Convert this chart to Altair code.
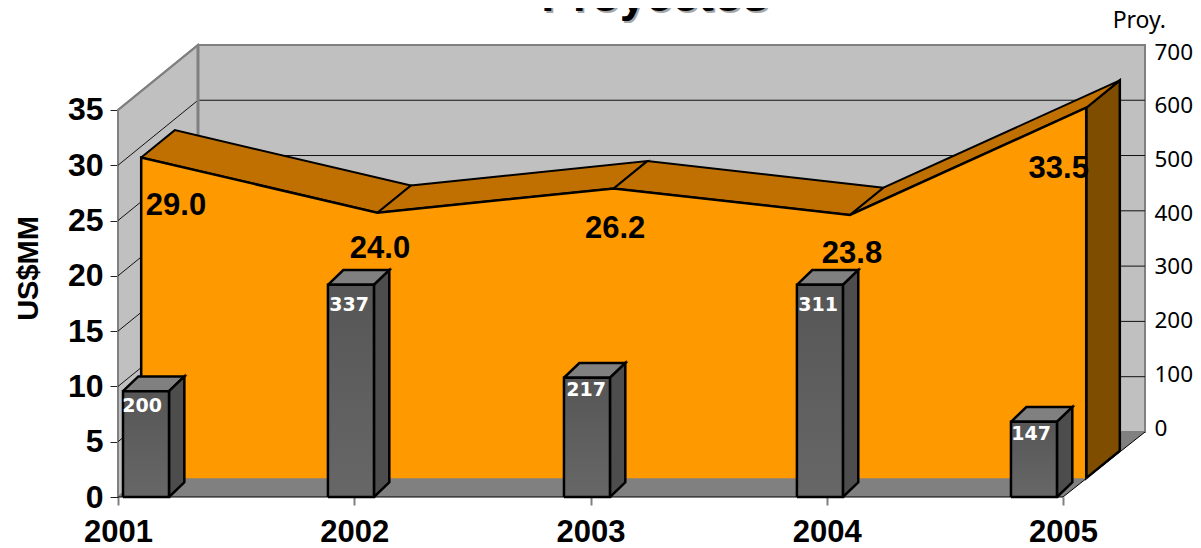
import altair as alt
import pandas as pd

years = [2001, 2002, 2003, 2004, 2005]
costs = [29.0, 24.0, 26.2, 23.8, 33.5]
cost_labels = ["29.0", "24.0", "26.2", "23.8", "33.5"]
cost_label_x = [2001.2455, 2002.109, 2003.104, 2004.107, 2004.982]
cost_label_y = [25.50, 21.61, 23.42, 21.16, 28.85]
# Bars as drawn (Proy. axis units) and the numbers printed on them
bar_heights = [197, 395, 222, 395, 140]
bar_labels = ["200", "337", "217", "311", "147"]
bar_centers = [2001.1185, 2001.986, 2002.985, 2003.971, 2004.877]
bar_label_x = [2001.102, 2001.978, 2002.981, 2003.963, 2004.865]
bar_label_y = [7.69, 16.82, 9.13, 16.82, 5.16]
left_ticks = [0, 5, 10, 15, 20, 25, 30, 35]
right_ticks = [0, 100, 200, 300, 400, 500, 600, 700]

XMIN, XMAX = 2001, 2005.347
YMIN, YMAX = 0, 44.22
RIGHT_DOMAIN = [-128.4, 782]
DX, DY = 0.3386, 5.879         # full floor depth, in axis units
AREA_D0, AREA_D1 = 0.29, 0.71  # front and back planes of the area series
PROY_TO_MM = 0.04858           # Proy. units to US$MM units
BAR_W, BAR_DX, BAR_DY = 0.1947, 0.065, 1.33

X = alt.X("x:Q", title=None, scale=alt.Scale(domain=[XMIN, XMAX], nice=False, zero=False),
          axis=alt.Axis(values=years, format="d", domain=False, grid=False, tickSize=8, tickColor="#808080", tickWidth=2,
                        labelFontSize=31, labelFont="Liberation Sans", labelFontWeight="bold", labelColor="#000000",
                        labelPadding=12, labelFlush=False, labelOverlap=False))
Y = alt.Y("y:Q", title=None, axis=None, scale=alt.Scale(domain=[YMIN, YMAX], nice=False, zero=False))
ORDER = alt.Order("i:Q")


def frame(points):
    return pd.DataFrame({"i": range(len(points)), "x": [p[0] for p in points], "y": [p[1] for p in points]})


def poly(points, fill, stroke="transparent", width=1.0):
    pts = list(points) + [points[0]]
    return alt.Chart(frame(pts)).mark_line(fill=fill, stroke=stroke, strokeWidth=width, strokeJoin="miter", clip=False).encode(x=X, y=Y, order=ORDER)


def path(points, stroke, width=1.0):
    return alt.Chart(frame(points)).mark_line(stroke=stroke, strokeWidth=width, strokeJoin="miter", clip=False).encode(x=X, y=Y, order=ORDER)


def label(xs, ys, texts, size, color="#000000", font="Liberation Sans", weight="bold", align="center"):
    df = pd.DataFrame({"x": xs, "y": ys, "t": texts})
    return alt.Chart(df).mark_text(font=font, fontSize=size, fontWeight=weight, color=color, align=align, baseline="alphabetic", clip=False).encode(x=X, y=Y, text="t:N")


layers = []

# Left wall and back wall; this layer carries the left axis
left_wall = [(XMIN, 0), (XMIN + DX, DY), (XMIN + DX, 35 + DY), (XMIN, 35)]
layers.append(
    alt.Chart(frame(left_wall + [left_wall[0]]))
    .mark_line(fill="#c0c0c0", stroke="#808080", strokeWidth=2, clip=False)
    .encode(
        x=X,
        y=alt.Y("y:Q", title="US$MM", scale=alt.Scale(domain=[YMIN, YMAX], nice=False, zero=False),
                axis=alt.Axis(values=left_ticks, domain=False, grid=False, tickSize=8, tickColor="#222222",
                              labelFontSize=32, labelFont="Liberation Sans", labelFontWeight="bold", labelColor="#000000",
                              labelPadding=7, labelOverlap=False,
                              titleFont="Liberation Sans", titleFontSize=29, titleFontWeight="bold", titleColor="#000000",
                              titleX=-81, titleY=260, titleBaseline="alphabetic", titleAlign="center", titleAngle=270)),
        order=ORDER,
    )
)
layers.append(poly([(XMIN + DX, DY), (XMAX, DY), (XMAX, 35 + DY), (XMIN + DX, 35 + DY)], "#c0c0c0", "#808080", 2))
layers.append(poly([(XMIN, 0), (2005, 0), (XMAX, DY), (XMIN + DX, DY)], "#808080"))
layers.append(path([(XMIN, 0), (2005, 0), (XMAX, DY)], "#000000", 1))

# Gridlines on both walls
for t in left_ticks[1:-1]:
    layers.append(path([(XMIN, t), (XMIN + DX, t + DY), (XMAX, t + DY)], "#111111", 1))
layers.append(path([(XMIN, 35), (XMIN + DX, 35 + DY)], "#808080", 2))
layers.append(path([(XMIN + DX, DY), (XMIN + DX, 35 + DY)], "#808080", 3))

# Area series, with its depth
xa0 = [y + AREA_D0 * DX for y in years]
ya0 = [v + AREA_D0 * DY for v in costs]
xa1 = [y + AREA_D1 * DX for y in years]
ya1 = [v + AREA_D1 * DY for v in costs]
base0 = AREA_D0 * DY
base1 = AREA_D1 * DY

front = list(zip(xa0, ya0))
layers.append(poly([(xa1[-1], base1), (xa1[-1], ya1[-1]), (xa0[-1], ya0[-1]), (xa0[-1], base0)], "#7f4d00", "#000000", 2.5))
for k in range(4):
    layers.append(poly([(xa0[k], ya0[k]), (xa1[k], ya1[k]), (xa1[k + 1], ya1[k + 1]), (xa0[k + 1], ya0[k + 1])], "#c07000", "#000000", 2))
layers.append(poly([(xa0[0], base0)] + front + [(xa0[-1], base0)], "#ff9900"))
layers.append(path([(xa0[0], base0)] + front + [(xa0[-1], base0)], "#000000", 2.5))

# Bars
grad = alt.Gradient(gradient="linear", x1=0, x2=0, y1=0, y2=1,
                    stops=[alt.GradientStop(color="#565656", offset=0), alt.GradientStop(color="#676767", offset=1)])
for c, h in zip(bar_centers, bar_heights):
    a, b, top = c - BAR_W / 2, c + BAR_W / 2, h * PROY_TO_MM
    layers.append(poly([(a, top), (a + BAR_DX, top + BAR_DY), (b + BAR_DX, top + BAR_DY), (b, top)], "#808080", "#000000", 2.5))
    layers.append(poly([(b, 0), (b + BAR_DX, BAR_DY), (b + BAR_DX, top + BAR_DY), (b, top)], "#4d4d4d", "#000000", 2.5))
    layers.append(poly([(a, 0), (b, 0), (b, top), (a, top)], grad, "#000000", 2.5))

# Texts
layers.append(label(cost_label_x, cost_label_y, cost_labels, 31))
layers.append(label(bar_label_x, bar_label_y, bar_labels, 19, color="#ffffff", font="DejaVu Sans"))
layers.append(label([2003.281], [43.77], ["Proyectos"], 47, color="#a6a6a6"))
layers.append(label([2003.273], [43.95], ["Proyectos"], 47))
layers.append(label([2005.21], [42.4], ["Proy."], 23, font="Noto Sans", weight="normal", align="left"))

# Right axis, on its own scale
layers.append(
    alt.Chart(pd.DataFrame({"x": years, "y": bar_heights}))
    .mark_point(opacity=0)
    .encode(
        x=X,
        y=alt.Y("y:Q", title=None, scale=alt.Scale(domain=RIGHT_DOMAIN, nice=False, zero=False),
                axis=alt.Axis(orient="right", values=right_ticks, domain=False, grid=False, ticks=False,
                              labelFontSize=22.5, labelFont="Noto Sans", labelColor="#000000", labelPadding=9, labelOverlap=False)),
    )
)

chart = (
    alt.layer(*layers)
    .resolve_scale(y="independent")
    .properties(
        width=1027, height=489,
        autosize=alt.AutoSizeParams(type="none"),
        padding={"left": 110, "top": 0, "right": 48, "bottom": 51},
        background="#ffffff",
    )
    .configure_view(stroke=None)
)
chart.save("out.html", embed_options={"renderer": "svg", "actions": False})
